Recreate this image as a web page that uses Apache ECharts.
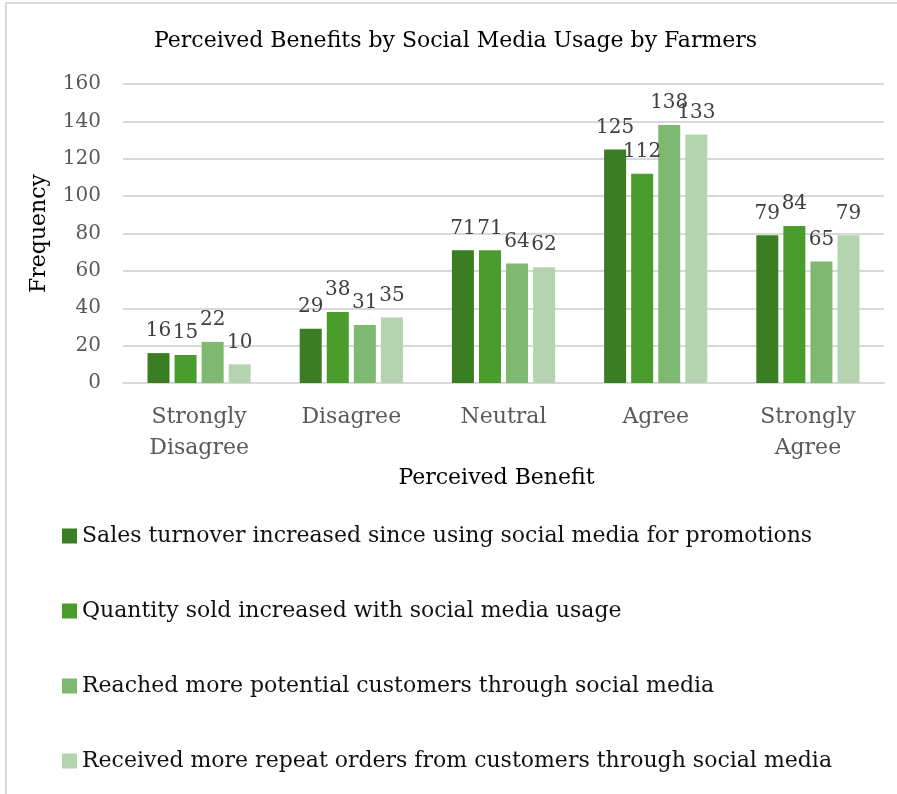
<!DOCTYPE html>
<html>
<head>
<meta charset="utf-8">
<script src="https://cdn.jsdelivr.net/npm/echarts@6/dist/echarts.min.js"></script>
<style>
  html, body { margin: 0; padding: 0; background: #fff; }
  #chart { position: absolute; left: 0; top: 0; width: 897px; height: 794px; }
  #frame { position: absolute; left: 5px; top: 2px; width: 900px; height: 800px;
           border-top: 2px solid #d9d9d9; border-left: 2px solid #d9d9d9; pointer-events: none; }
</style>
</head>
<body>
<div id="chart"></div>
<div id="frame"></div>
<script>
// Response categories on the x axis
const categories = ['Strongly\nDisagree', 'Disagree', 'Neutral', 'Agree', 'Strongly\nAgree'];

// Frequencies for each perceived benefit statement
const salesTurnover = [16, 29, 71, 125, 79];
const quantitySold = [15, 38, 71, 112, 84];
const moreCustomers = [22, 31, 64, 138, 65];
const repeatOrders = [10, 35, 62, 133, 79];

const seriesNames = [
  'Sales turnover increased since using social media for promotions',
  'Quantity sold increased with social media usage',
  'Reached more potential customers through social media',
  'Received more repeat orders from customers through social media'
];
const seriesValues = [salesTurnover, quantitySold, moreCustomers, repeatOrders];
const palette = ['#3b7d23', '#4a9c2d', '#7fb870', '#b4d4b0'];

const FONT = 'DejaVu Serif';

const chart = echarts.init(document.getElementById('chart'), null, { renderer: 'canvas' });

chart.setOption({
  animation: false,
  backgroundColor: '#ffffff',
  color: palette,
  title: {
    text: 'Perceived Benefits by Social Media Usage by Farmers',
    left: 149,
    top: 25,
    textStyle: { fontFamily: FONT, fontSize: 22, fontWeight: 'normal', color: '#000000' }
  },
  legend: {
    orient: 'vertical',
    left: 62,
    top: 524,
    padding: 0,
    itemWidth: 15,
    itemHeight: 15,
    itemGap: 51,
    icon: 'rect',
    textStyle: { fontFamily: FONT, fontSize: 22, color: '#111111', lineHeight: 24 },
    data: seriesNames
  },
  grid: { left: 123, right: 13, top: 84, bottom: 411, containLabel: false },
  xAxis: {
    type: 'category',
    data: categories,
    name: 'Perceived Benefit',
    nameLocation: 'middle',
    nameGap: 84,
    nameTextStyle: { fontFamily: FONT, fontSize: 22, color: '#000000', padding: [0, 14, 0, 0] },
    axisLine: { lineStyle: { color: '#d9d9d9', width: 2 } },
    axisTick: { show: false },
    axisLabel: { fontFamily: FONT, fontSize: 22, color: '#595959', margin: 19, lineHeight: 31, interval: 0 }
  },
  yAxis: {
    type: 'value',
    min: 0,
    max: 160,
    interval: 20,
    name: 'Frequency',
    nameLocation: 'middle',
    nameGap: 73,
    nameRotate: 90,
    nameTextStyle: { fontFamily: FONT, fontSize: 22, color: '#000000' },
    axisLine: { show: false },
    axisTick: { show: false },
    axisLabel: { fontFamily: FONT, fontSize: 20, color: '#595959', margin: 22 },
    splitLine: { lineStyle: { color: '#d9d9d9', width: 2 } }
  },
  series: seriesNames.map((name, i) => ({
    name: name,
    type: 'bar',
    data: seriesValues[i],
    barWidth: 22,
    barGap: '23%',
    itemStyle: { color: palette[i] },
    label: {
      show: true,
      position: 'top',
      distance: 12,
      fontFamily: FONT,
      fontSize: 20,
      color: '#404040'
    }
  }))
});
</script>
</body>
</html>
